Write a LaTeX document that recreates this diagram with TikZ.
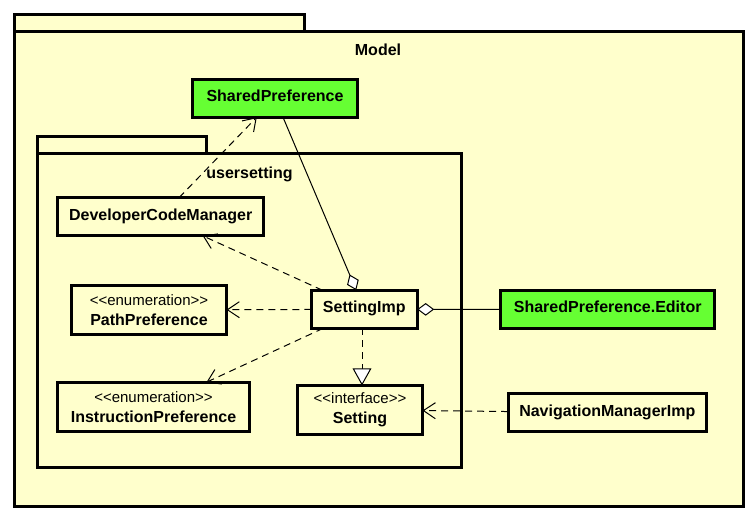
\documentclass[tikz,border=0pt]{standalone}
\usepackage{fontspec}
\newfontfamily\umlfont{Liberation Sans}
\usetikzlibrary{arrows.meta,calc}
\definecolor{pkgyellow}{HTML}{FFFFCC}
\definecolor{clsgreen}{HTML}{66FF33}
\newcommand{\stereo}[1]{{\fontsize{11.25}{15}\selectfont\mdseries #1}}
\begin{document}
\begin{tikzpicture}[x=0.75pt,y=-0.75pt,
  font=\umlfont\fontsize{12}{15}\selectfont\bfseries,
  pkg/.style={draw,line width=2.25pt,fill=pkgyellow},
  cls/.style={draw,line width=2.25pt,fill=pkgyellow,inner sep=0pt,outer sep=0pt,align=center},
  one/.style={cls,text height=8.6pt,text depth=3.5pt},
  dep/.style={line width=0.75pt,dash pattern=on 5.25pt off 3.75pt,-{Straight Barb[length=9pt,width=12pt,line width=0.75pt]}},
  real/.style={line width=0.75pt,dash pattern=on 5.25pt off 3.75pt,-{Triangle[fill=white,length=12.75pt,width=14pt,line width=0.75pt]}},
  aggr/.style={line width=0.75pt,-{Diamond[fill=white,length=12.75pt,width=9.5pt,line width=0.75pt]}}]
\useasboundingbox (0,0) rectangle (756,521);
\fill[white] (0,0) rectangle (756,521);
% Model package
\draw[pkg] (14.2,14.2) rectangle (304.5,31.8);
\draw[pkg] (14.2,31.8) rectangle (743.5,506.5);
\node (modellabel) at (378,50) {Model};
% usersetting package
\draw[pkg] (37.5,136.5) rectangle (206.5,153.8);
\draw[pkg] (37.5,153.8) rectangle (461.5,467.8);
\node (uslabel) at (249.5,174) {usersetting};
% classes
\node[one,fill=clsgreen,minimum width=124.2pt,minimum height=28.3pt] (sp) at (275,98.3) {SharedPreference};
\node[one,minimum width=154.7pt,minimum height=28.7pt] (dcm) at (160.7,216.7) {DeveloperCodeManager};
\node[cls,minimum width=116.25pt,minimum height=36.75pt] (pp) at (149,310) {\stereo{<<enumeration>>}\\PathPreference};
\node[one,minimum width=79.3pt,minimum height=28.7pt] (si) at (364.3,309.3) {SettingImp};
\node[one,fill=clsgreen,minimum width=160.3pt,minimum height=29pt] (ed) at (607.7,309.5) {SharedPreference.Editor};
\node[cls,minimum width=144pt,minimum height=36.75pt] (ip) at (153.5,406.7) {\stereo{<<enumeration>>}\\InstructionPreference};
\node[cls,minimum width=93.75pt,minimum height=36.5pt] (set) at (360,409.8) {\stereo{<<interface>>}\\Setting};
\node[one,minimum width=148.7pt,minimum height=28.7pt] (nmi) at (607.3,412.7) {NavigationManagerImp};
% connectors
\draw[dep] (dcm) -- (sp);
\draw[aggr] (sp) -- (si);
\draw[dep] (si) -- (dcm);
\draw[dep] (si) -- (pp);
\draw[dep] (si) -- (ip);
\draw[real] ($(si.south)+(-2.3,0)$) -- ($(set.north)+(2,0)$);
\draw[aggr] (ed) -- (si);
\draw[dep] (nmi) -- (set);
\end{tikzpicture}
\end{document}
